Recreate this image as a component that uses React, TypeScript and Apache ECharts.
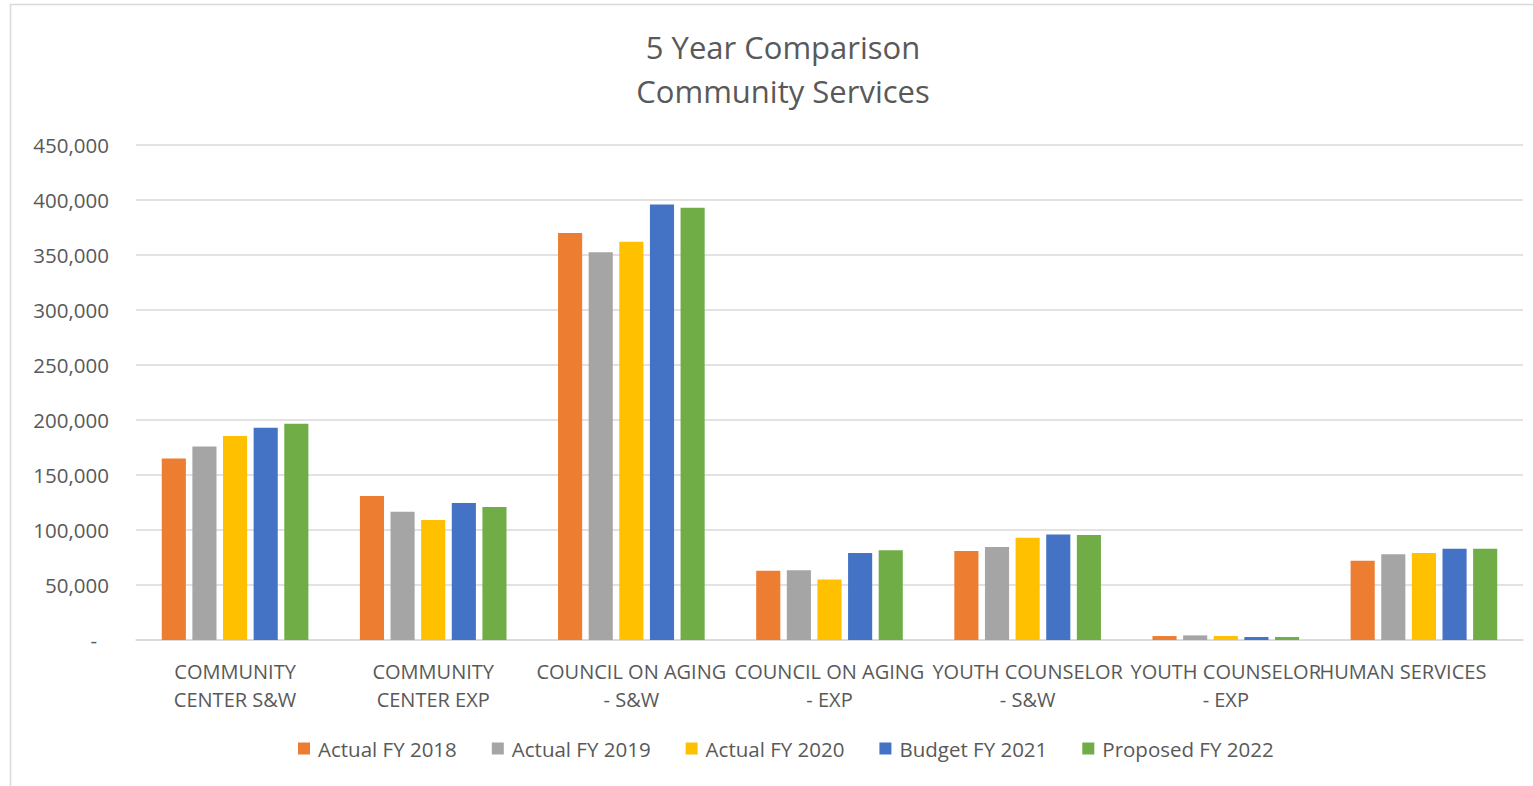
import React, { useEffect, useRef } from "react";
import * as echarts from "echarts";

const categories = [
  "COMMUNITY\nCENTER S&W",
  "COMMUNITY\nCENTER EXP",
  "COUNCIL ON AGING\n- S&W",
  "COUNCIL ON AGING\n- EXP",
  "YOUTH COUNSELOR\n- S&W",
  "YOUTH COUNSELOR\n- EXP",
  "HUMAN SERVICES",
];

const seriesNames = ["Actual FY 2018", "Actual FY 2019", "Actual FY 2020", "Budget FY 2021", "Proposed FY 2022"];

const actual2018 = [165000, 131000, 370000, 63000, 81000, 3600, 72000];
const actual2019 = [176000, 116500, 352500, 63300, 84500, 4200, 78000];
const actual2020 = [185500, 109000, 362000, 55000, 93000, 3600, 79000];
const budget2021 = [193000, 124500, 396000, 79000, 96000, 2700, 83000];
const proposed2022 = [196500, 121000, 393000, 81500, 95500, 2700, 83000];

const colors = ["#ED7D31", "#A5A5A5", "#FFC000", "#4472C4", "#70AD47"];

const yMin = 0;
const yMax = 450000;
const yInterval = 50000;

const FONT = "'Open Sans', sans-serif";
const TEXT = "#595959";

export default function App() {
  const ref = useRef<HTMLDivElement>(null);
  useEffect(() => {
    if (!ref.current) return;
    const chart = echarts.init(ref.current, undefined, { renderer: "svg" });
    const data = [actual2018, actual2019, actual2020, budget2021, proposed2022];
    const catData = categories.map((c, i) =>
      i === categories.length - 1 ? { value: c, textStyle: { padding: [0, 42, 0, 0] } } : c
    );
    chart.setOption({
      animation: false,
      backgroundColor: "#ffffff",
      textStyle: { fontFamily: FONT, color: TEXT },
      title: {
        text: "5 Year Comparison\nCommunity Services",
        left: 778,
        textAlign: "center",
        top: 20,
        textStyle: { fontFamily: FONT, fontSize: 31, fontWeight: "normal", color: TEXT, lineHeight: 44 },
      },
      graphic: [
        {
          type: "rect",
          shape: { x: 10.5, y: 4.5, width: 1600, height: 900 },
          style: { fill: "none", stroke: "#d9d9d9", lineWidth: 1.5 },
          silent: true,
        },
      ],
      legend: {
        bottom: 22,
        left: 293,
        itemWidth: 12,
        itemHeight: 12,
        itemGap: 35,
        icon: "rect",
        textStyle: { fontFamily: FONT, fontSize: 20.5, color: TEXT, padding: [0, 0, 0, 3] },
        data: seriesNames,
      },
      grid: { left: 136, right: 10, top: 145, bottom: 146, containLabel: false },
      xAxis: {
        type: "category",
        data: catData,
        axisLine: { lineStyle: { color: "#d9d9d9", width: 1.5 } },
        axisTick: { show: false },
        axisLabel: {
          interval: 0,
          hideOverlap: false,
          margin: 17,
          verticalAlign: "top",
          fontFamily: FONT,
          fontSize: 20,
          lineHeight: 28,
          color: TEXT,
        },
      },
      yAxis: {
        type: "value",
        min: yMin,
        max: yMax,
        interval: yInterval,
        axisLine: { show: false },
        axisTick: { show: false },
        splitLine: { lineStyle: { color: "#d9d9d9", width: 1.5 } },
        axisLabel: {
          margin: 27,
          fontFamily: FONT,
          fontSize: 20.5,
          color: TEXT,
          formatter: (v: number) => (v === 0 ? "{z|-}" : v.toLocaleString("en-US")),
          rich: { z: { fontFamily: FONT, fontSize: 20.5, color: TEXT, padding: [0, 12, 0, 0] } },
        },
      },
      series: seriesNames.map((name, i) => ({
        name,
        type: "bar",
        data: data[i],
        barGap: "27%",
        barCategoryGap: "26%",
        itemStyle: { color: colors[i] },
      })),
    });
    return () => chart.dispose();
  }, []);
  return (
    <div
      ref={ref}
      style={{ position: "absolute", left: 0, top: 0, width: 1533, height: 786 }}
    />
  );
}
